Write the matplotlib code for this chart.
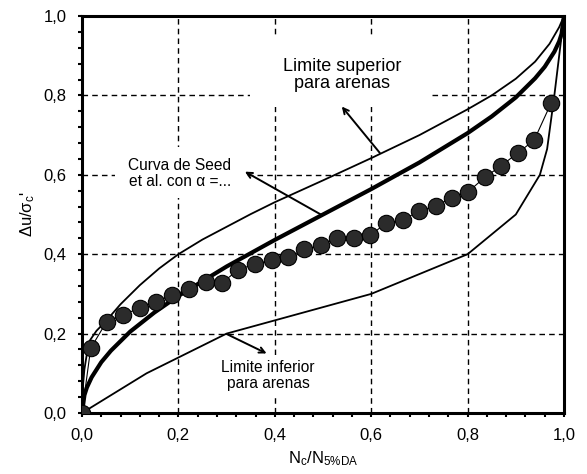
import matplotlib
matplotlib.use("Agg")
import matplotlib.pyplot as plt
from matplotlib.patches import Rectangle

plt.rcParams['font.family'] = ['Liberation Sans', 'DejaVu Sans']
plt.rcParams['mathtext.fontset'] = 'custom'
plt.rcParams['mathtext.rm'] = 'Liberation Sans'

# measured points (N/N5%DA, du/sigma'c)
test_x = [0.0, 0.018, 0.051, 0.086, 0.120, 0.153, 0.187, 0.222, 0.257, 0.290,
          0.324, 0.359, 0.394, 0.427, 0.461, 0.495, 0.530, 0.564, 0.598, 0.631,
          0.665, 0.700, 0.734, 0.768, 0.801, 0.836, 0.870, 0.905, 0.938, 0.973]
test_y = [0.0, 0.163, 0.230, 0.247, 0.265, 0.280, 0.297, 0.312, 0.329, 0.327,
          0.361, 0.375, 0.385, 0.392, 0.412, 0.422, 0.441, 0.441, 0.448, 0.478,
          0.486, 0.509, 0.522, 0.542, 0.557, 0.594, 0.623, 0.656, 0.687, 0.780]

# Seed et al. curve
seed_x = [0.0, 0.005, 0.01, 0.02, 0.04, 0.06, 0.10, 0.15, 0.20, 0.30, 0.40, 0.50,
          0.60, 0.70, 0.80, 0.85, 0.90, 0.94, 0.96, 0.98, 0.99, 0.995, 1.0]
seed_y = [0.0, 0.045, 0.064, 0.090, 0.128, 0.157, 0.205, 0.253, 0.295, 0.369, 0.436, 0.500,
          0.564, 0.631, 0.705, 0.747, 0.795, 0.843, 0.872, 0.910, 0.936, 0.955, 1.0]

# upper limit for sands
sup_x = [0.0, 0.002, 0.005, 0.01, 0.017, 0.03, 0.05, 0.08, 0.12, 0.16, 0.20, 0.25,
         0.30, 0.35, 0.40, 0.50, 0.60, 0.70, 0.80, 0.85, 0.90, 0.94, 0.97, 0.99, 1.0]
sup_y = [0.0, 0.07, 0.11, 0.148, 0.184, 0.207, 0.232, 0.274, 0.322, 0.364, 0.40, 0.437,
         0.469, 0.501, 0.531, 0.586, 0.642, 0.70, 0.765, 0.80, 0.842, 0.885, 0.93, 0.972, 1.0]

# lower limit for sands
inf_x = [0.0, 0.134, 0.30, 0.60, 0.80, 0.90, 0.95, 0.965, 0.98, 0.993, 1.0]
inf_y = [0.0, 0.10, 0.20, 0.30, 0.40, 0.50, 0.60, 0.665, 0.80, 0.93, 1.0]

ticks = [0.0, 0.2, 0.4, 0.6, 0.8, 1.0]
tick_labels = ['0,0', '0,2', '0,4', '0,6', '0,8', '1,0']

fig = plt.figure(figsize=(5.87, 4.74), dpi=100)
ax = fig.add_axes([0.1397, 0.1287, 0.8211, 0.8375])

for t in ticks[1:-1]:
    ax.axvline(t, color='black', lw=1, ls=(0, (4, 3)), zorder=0)
    ax.axhline(t, color='black', lw=1, ls=(0, (4, 3)), zorder=0)

# white boxes behind the labels hide the grid
for (bx, by, bw, bh) in [(0.349, 0.771, 0.377, 0.176),
                         (0.068, 0.541, 0.272, 0.130),
                         (0.275, 0.041, 0.220, 0.105)]:
    ax.add_patch(Rectangle((bx, by), bw, bh, facecolor='white',
                           edgecolor='none', zorder=1))

ax.plot(sup_x, sup_y, color='black', lw=1.3, zorder=2)
ax.plot(inf_x, inf_y, color='black', lw=1.3, zorder=2)
ax.plot(seed_x, seed_y, color='black', lw=3, zorder=3)
ax.plot(test_x, test_y, color='black', lw=0.8, marker='o', ms=11.8,
        mfc='#2b2b2b', mec='black', mew=0.8, zorder=4)

arrow = dict(arrowstyle='->', color='black', lw=1.4, shrinkA=0, shrinkB=0)
ax.annotate('', xy=(0.539, 0.772), xytext=(0.618, 0.655), arrowprops=arrow, zorder=5)
ax.annotate('', xy=(0.338, 0.608), xytext=(0.497, 0.499), arrowprops=arrow, zorder=5)
ax.annotate('', xy=(0.383, 0.150), xytext=(0.300, 0.199), arrowprops=arrow, zorder=5)

ax.text(0.539, 0.851, 'Limite superior\npara arenas', ha='center', va='center',
        fontsize=13, linespacing=1.0, zorder=6)
ax.text(0.203, 0.604, 'Curva de Seed\net al. con α =...', ha='center', va='center',
        fontsize=11.2, linespacing=1.05, zorder=6)
ax.text(0.386, 0.094, 'Limite inferior\npara arenas', ha='center', va='center',
        fontsize=11.2, linespacing=1.05, zorder=6)

ax.set_xlim(0, 1)
ax.set_ylim(0, 1)
ax.set_xticks(ticks)
ax.set_xticklabels(tick_labels)
ax.set_yticks(ticks)
ax.set_yticklabels(tick_labels)
ax.set_xticks([i * 0.04 for i in range(26)], minor=True)
ax.set_yticks([i * 0.04 for i in range(26)], minor=True)
ax.tick_params(which='both', direction='out', length=3, width=1.5,
               labelsize=12, pad=8)
for s in ax.spines.values():
    s.set_linewidth(2.2)

ax.set_xlabel(r'N$\mathregular{_c}$/N$\mathregular{_{5\%DA}}$', fontsize=12, labelpad=4)
ax.set_ylabel(r"Δu/σ$\mathregular{_c}$'", fontsize=12, labelpad=5)

fig.savefig('out.png', dpi=100)
